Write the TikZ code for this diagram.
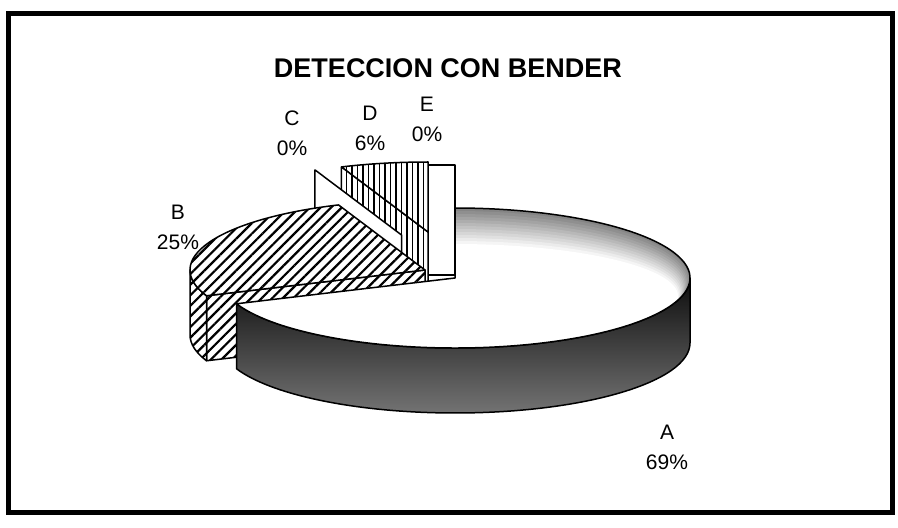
\documentclass[tikz,border=0pt]{standalone}
\usepackage{fontspec}
\setmainfont{Liberation Sans}
\usetikzlibrary{calc,patterns.meta}

\tikzstyle{face} = [draw=black, line width=1.5pt, line join=round]
\tikzstyle{blank} = [face, fill=white]
\tikzstyle{hatchB} = [face, preaction={fill=white},
pattern={Lines[angle=45, distance=7.5pt, line width=2.2pt]}]
\tikzstyle{hatchD} = [face, preaction={fill=white},
pattern={Lines[angle=90, distance=5.5pt, line width=1.9pt]}]
\tikzstyle{darkside} = [face, top color=black!95, bottom color=black!55]
\tikzstyle{pct} = [align=center, font=\fontsize{21}{30}\selectfont]
\tikzstyle{rim} = [x radius=235, y radius=70]

\begin{document}
\begin{tikzpicture}[x=1pt, y=1pt]
	\useasboundingbox (0,0) rectangle (898,528);
	% Frame
	\draw[line width=5pt] (8,15) rectangle (892,514);

	% Slice vertices
	\coordinate (vA) at (455,250);
	\coordinate (vB) at (425,258);
	\coordinate (vC) at (401.5,293);
	\coordinate (vD) at (428,296);

	% Slice E
	\draw[blank] (428,253) rectangle (455,363);

	% Slice D
	\draw[hatchD] (vD) -- ++(111.6:235 and 70) -- ++(0,-65) -- ($(vD)+(0,-65)$) -- cycle;
	\draw[hatchD] (vD) -- ++(111.6:235 and 70) arc[rim, start angle=111.6, end angle=90] -- cycle;

	% Slice C
	\draw[blank] (vC) -- ++(111.6:235 and 70) -- ++(0,-65) -- ($(vC)+(0,-65)$) -- cycle;

	% Slice B
	\draw[hatchB] (vB) -- ++(201.6:235 and 70) -- ++(0,-65) -- ($(vB)+(0,-65)$) -- cycle;
	\draw[hatchB] ($(vB)+(180:235 and 70)$) arc[rim, start angle=180, end angle=201.6]
		-- ++(0,-65) arc[rim, start angle=201.6, end angle=180] -- cycle;
	\draw[hatchB] (vB) -- ++(111.6:235 and 70) arc[rim, start angle=111.6, end angle=201.6] -- cycle;

	% Slice A
	\draw[darkside] ($(vA)+(-158.4:235 and 70)$) arc[rim, start angle=-158.4, end angle=0]
		-- ++(0,-65) arc[rim, start angle=0, end angle=-158.4] -- cycle;
	\begin{scope}
		\clip (vA) -- ++(-158.4:235 and 70) arc[rim, start angle=-158.4, end angle=90] -- cycle;
		\foreach \k [evaluate=\k as \c using 48-4*\k] in {0,...,12}
			\fill[black!\c] ($(vA)+(0,-1.5*\k)$) ellipse[x radius=235-\k, y radius=70-1.5*\k];
	\end{scope}
	\draw[face] (vA) -- ++(-158.4:235 and 70) arc[rim, start angle=-158.4, end angle=90] -- cycle;

	% Place labels
	\node (title) at (448,460) {\fontsize{27}{32}\selectfont\bfseries DETECCION CON BENDER};
	\node[pct] (lblA) at (667,81) {A\\69\%};
	\node[pct] (lblB) at (178,301) {B\\25\%};
	\node[pct] (lblC) at (292,395) {C\\0\%};
	\node[pct] (lblD) at (370,400) {D\\6\%};
	\node[pct] (lblE) at (427,409) {E\\0\%};
\end{tikzpicture}
\end{document}
